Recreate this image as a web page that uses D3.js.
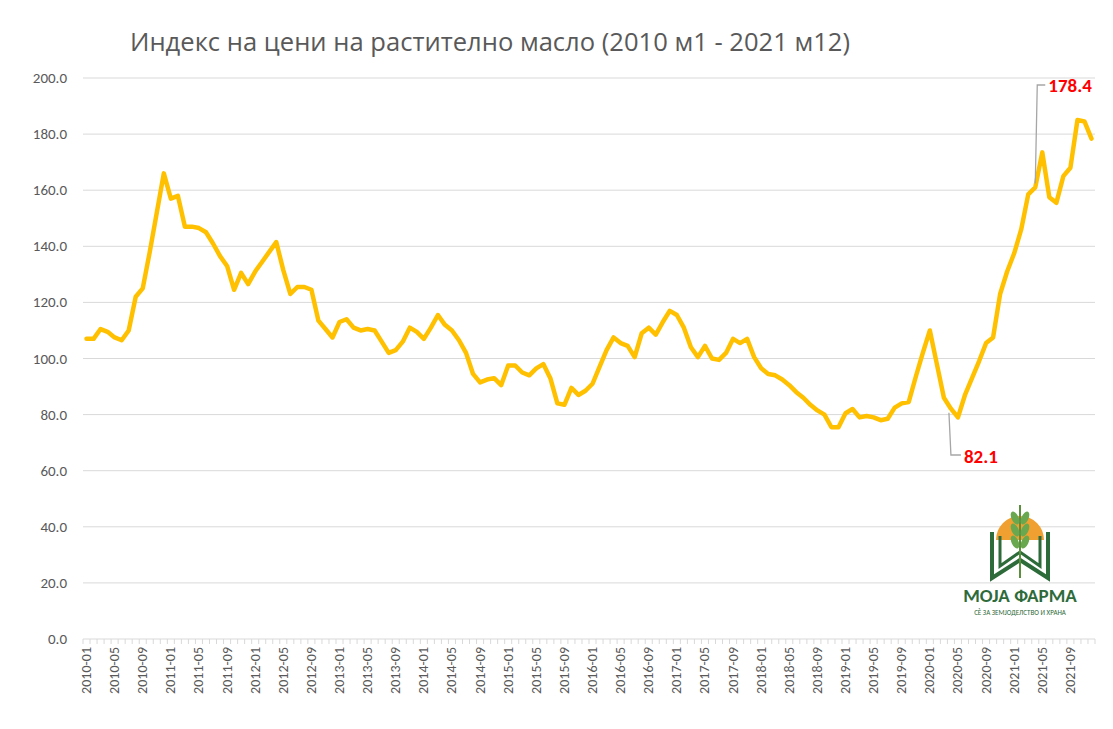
<!DOCTYPE html>
<html><head><meta charset="utf-8">
<script src="https://cdn.jsdelivr.net/npm/d3@7"></script>
<style>body{margin:0;background:#fff}svg{font-family:Calibri,Carlito,"Liberation Sans",sans-serif}</style>
</head><body><svg id="c" width="1113" height="729"></svg>
<script>
const title = "Индекс на цени на растително масло (2010 м1 - 2021 м12)";
const years = d3.range(2010, 2022);
const months = years.flatMap(y => d3.range(1, 13).map(m => `${y}-${String(m).padStart(2, "0")}`));
const values = [
107,107,110.5,109.5,107.5,106.5,110,122,125,138,152,166,
157,158,147,147,146.5,145,141,136.5,133,124.5,130.5,126.5,
131,134.5,138,141.5,131.5,123,125.5,125.5,124.5,113.5,110.5,107.5,
113,114,111,110,110.5,110,106,102,103,106,111,109.5,
107,111,115.5,112,110,106.5,102,94.5,91.5,92.5,93,90.5,
97.5,97.5,95,94,96.5,98,93,84,83.5,89.5,87,88.5,
91,97,103,107.5,105.5,104.5,100.5,109,111,108.5,113,117,
115.5,111,104,100.5,104.5,100,99.5,102,107,105.5,107,100.5,
96.5,94.5,94,92.5,90.5,88,86,83.5,81.5,80,75.5,75.5,
80.5,82,79,79.5,79,78,78.5,82.5,84,84.5,93.5,102,
110,98,86,82.1,79,87,93,99,105.5,107.5,123,131,
137.5,146,158.5,161,173.5,157.5,155.5,165,168,185,184.5,178.4];
const yTicks = d3.range(0, 201, 20);
const tickLabels = months.filter((d, i) => i % 4 === 0);
const annotations = [{month: "2020-04", label: "82.1"}, {month: "2021-04", label: "178.4"}];

const svg = d3.select("#c");
const x = d3.scalePoint().domain(months).range([83, 1095]).padding(0.5);
const y = d3.scaleLinear().domain([0, 200]).range([639, 78]);

svg.append("text").attr("x", 130).attr("y", 51).attr("font-size", 25).attr("fill", "#595959")
  .attr("font-family", "'Open Sans',sans-serif").attr("textLength", 720).attr("lengthAdjust", "spacingAndGlyphs").text(title);

const g = svg.append("g");
g.selectAll("line.grid").data(yTicks).join("line")
  .attr("x1", 83).attr("x2", 1095).attr("y1", d => y(d)).attr("y2", d => y(d))
  .attr("stroke", "#d9d9d9").attr("stroke-width", 1);
g.selectAll("text.yl").data(yTicks).join("text")
  .attr("x", 67).attr("y", d => y(d) + 5).attr("text-anchor", "end")
  .attr("font-size", 15).attr("fill", "#595959").text(d => d.toFixed(1));

g.selectAll("line.tk").data(d3.range(0, 145)).join("line")
  .attr("x1", i => 83 + i * (1012 / 144)).attr("x2", i => 83 + i * (1012 / 144))
  .attr("y1", 639).attr("y2", 644).attr("stroke", "#d9d9d9");
g.selectAll("text.xl").data(tickLabels).join("text")
  .attr("transform", d => `translate(${x(d) + 4.5},${647}) rotate(-90)`)
  .attr("text-anchor", "end").attr("font-size", 14).attr("fill", "#595959").text(d => d);

const line = d3.line().x((d, i) => x(months[i])).y(d => y(d));
svg.append("path").datum(values).attr("d", line).attr("fill", "none")
  .attr("stroke", "#ffc000").attr("stroke-width", 4.5).attr("stroke-linejoin", "round").attr("stroke-linecap", "round");

// annotations
const a1 = annotations[0], i1 = months.indexOf(a1.month);
const p1 = [x(a1.month) - 2, y(values[i1]) + 4];
svg.append("polyline").attr("points", `${p1[0]},${p1[1]} ${p1[0] + 2},455 ${p1[0] + 12},455`)
  .attr("fill", "none").attr("stroke", "#a6a6a6").attr("stroke-width", 1.3);
svg.append("text").attr("x", p1[0] + 15).attr("y", 463).attr("font-size", 19).attr("font-weight", "bold")
  .attr("fill", "#ff0000").text(a1.label);
const a2 = annotations[1], i2 = months.indexOf(a2.month);
const p2 = [x(a2.month), y(values[i2]) - 4];
svg.append("polyline").attr("points", `${p2[0]},${p2[1]} ${p2[0] + 2},85 ${p2[0] + 10},85`)
  .attr("fill", "none").attr("stroke", "#a6a6a6").attr("stroke-width", 1.3);
svg.append("text").attr("x", p2[0] + 13).attr("y", 92).attr("font-size", 19).attr("font-weight", "bold")
  .attr("fill", "#ff0000").text(a2.label);

// logo
const L = svg.append("g").attr("transform", "translate(1020,540)");
L.append("path").attr("d", "M-24,0 A24,24 0 0 1 24,0 Z").attr("fill", "#f0a030");
L.append("path").attr("d", "M-28,-8 L-28,38 L0,20 L28,38 L28,-8").attr("fill", "none").attr("stroke", "#2e6b3a").attr("stroke-width", 4);
L.append("path").attr("d", "M-20,-4 L-20,26 L0,12 L20,26 L20,-4").attr("fill", "none").attr("stroke", "#2e6b3a").attr("stroke-width", 3);
L.append("line").attr("x1", 0).attr("x2", 0).attr("y1", -35).attr("y2", 38).attr("stroke", "#5a8f3c").attr("stroke-width", 2);
[-22, -10, 2].forEach(dy => {
  L.append("ellipse").attr("cx", -5).attr("cy", dy).attr("rx", 3.5).attr("ry", 7).attr("fill", "#6aa84f").attr("transform", `rotate(-25,-5,${dy})`);
  L.append("ellipse").attr("cx", 5).attr("cy", dy).attr("rx", 3.5).attr("ry", 7).attr("fill", "#6aa84f").attr("transform", `rotate(25,5,${dy})`);
});
L.append("text").attr("x", 0).attr("y", 62).attr("text-anchor", "middle").attr("font-size", 19).attr("font-weight", "bold")
  .attr("fill", "#2e6b3a").text("МОЈА ФАРМА");
L.append("text").attr("x", 0).attr("y", 75).attr("text-anchor", "middle").attr("font-size", 7)
  .attr("fill", "#2e6b3a").text("СЀ ЗА ЗЕМЈОДЕЛСТВО И ХРАНА");
</script></body></html>
